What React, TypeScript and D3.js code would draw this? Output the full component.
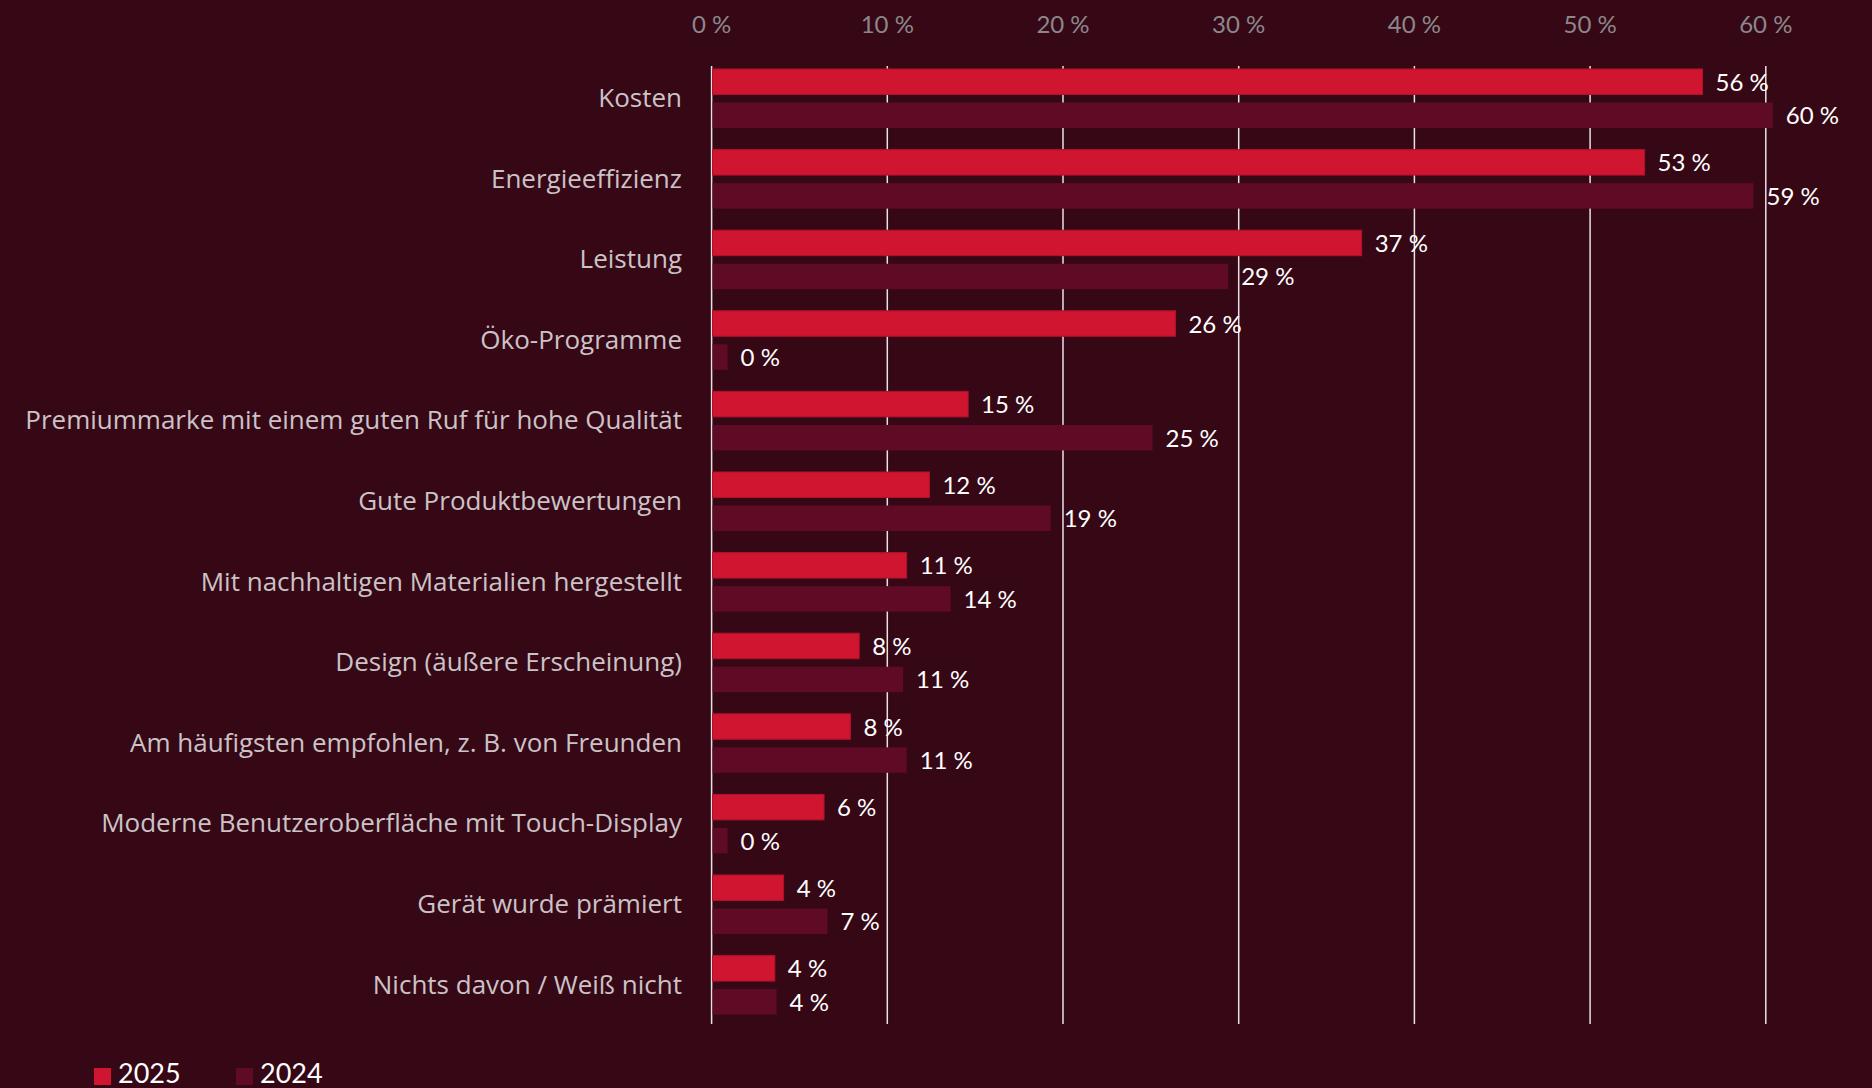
import React from "react";
import * as d3 from "d3";

const categories = [
  "Kosten",
  "Energieeffizienz",
  "Leistung",
  "Öko-Programme",
  "Premiummarke mit einem guten Ruf für hohe Qualität",
  "Gute Produktbewertungen",
  "Mit nachhaltigen Materialien hergestellt",
  "Design (äußere Erscheinung)",
  "Am häufigsten empfohlen, z. B. von Freunden",
  "Moderne Benutzeroberfläche mit Touch-Display",
  "Gerät wurde prämiert",
  "Nichts davon / Weiß nicht",
];

const values2025 = [56.4, 53.1, 37.0, 26.4, 14.6, 12.4, 11.1, 8.4, 7.9, 6.4, 4.1, 3.6];
const values2024 = [60.4, 59.3, 29.4, 0, 25.1, 19.3, 13.6, 10.9, 11.1, 0, 6.6, 3.7];
const labels2025 = ["56 %", "53 %", "37 %", "26 %", "15 %", "12 %", "11 %", "8 %", "8 %", "6 %", "4 %", "4 %"];
const labels2024 = ["60 %", "59 %", "29 %", "0 %", "25 %", "19 %", "14 %", "11 %", "11 %", "0 %", "7 %", "4 %"];
const seriesNames = ["2025", "2024"];
const tickValues = [0, 10, 20, 30, 40, 50, 60];
const tickLabels = ["0 %", "10 %", "20 %", "30 %", "40 %", "50 %", "60 %"];

const W = 1872;
const H = 1088;
const BG = "#360816";
const C2025 = "#cf1530";
const C2024 = "#5f0b26";

export default function App() {
  const x = d3.scaleLinear().domain([0, 60]).range([711.6, 1765.8]);
  const pitch = 80.6;
  const yTop = 66;
  const y = d3
    .scaleBand<string>()
    .domain(categories)
    .range([yTop, yTop + pitch * categories.length])
    .padding(0);
  const inner = d3
    .scaleBand<string>()
    .domain(seriesNames)
    .range([3, 62])
    .paddingInner(0.24);
  const minBar = 16;
  const gridTop = 66;
  const gridBottom = 1024;
  const valFont = "Lato, 'Open Sans', sans-serif";
  const catFont = "'Open Sans', 'Noto Sans', sans-serif";

  const series = [
    { name: "2025", values: values2025, labels: labels2025, color: C2025 },
    { name: "2024", values: values2024, labels: labels2024, color: C2024 },
  ];

  return (
    <svg
      width={W}
      height={H}
      style={{ position: "absolute", left: 0, top: 0, display: "block" }}
    >
      <rect x={0} y={0} width={W} height={H} fill={BG} />
      {tickValues.map((t, i) => (
        <g key={t}>
          <line
            x1={x(t)}
            x2={x(t)}
            y1={gridTop}
            y2={gridBottom}
            stroke="#e8e2e4"
            strokeWidth={1.5}
          />
          <text
            x={x(t)}
            y={33}
            textAnchor="middle"
            fill="#8c878b"
            fontSize={24}
            fontFamily={valFont}
          >
            {tickLabels[i]}
          </text>
        </g>
      ))}
      {categories.map((c, ci) => {
        const top = y(c)!;
        const center = top + 3 + 59 / 2;
        return (
          <g key={c}>
            <text
              x={682}
              y={center + 8.5}
              textAnchor="end"
              fill="#cbc3c7"
              fontSize={26}
              fontFamily={catFont}
            >
              {c}
            </text>
            {series.map((s) => {
              const by = top + inner(s.name)!;
              const bh = inner.bandwidth();
              const bw = Math.max(x(s.values[ci]) - x(0), minBar);
              return (
                <g key={s.name}>
                  <rect
                    x={x(0) + 1}
                    y={by}
                    width={bw - 1}
                    height={bh}
                    fill={s.color}
                    stroke={s.name === "2025" ? "#b0122b" : "none"}
                    strokeWidth={1}
                  />
                  <text
                    x={x(0) + bw + 13}
                    y={by + bh / 2 + 9}
                    fill="#ffffff"
                    fontSize={24}
                    fontFamily={valFont}
                  >
                    {s.labels[ci]}
                  </text>
                </g>
              );
            })}
          </g>
        );
      })}
      {series.map((s, i) => {
        const lx = 94 + i * 142;
        return (
          <g key={s.name}>
            <rect x={lx} y={1068} width={17} height={17} fill={s.color} />
            <text
              x={lx + 24}
              y={1083}
              fill="#ffffff"
              fontSize={27}
              fontFamily={valFont}
            >
              {s.name}
            </text>
          </g>
        );
      })}
    </svg>
  );
}
